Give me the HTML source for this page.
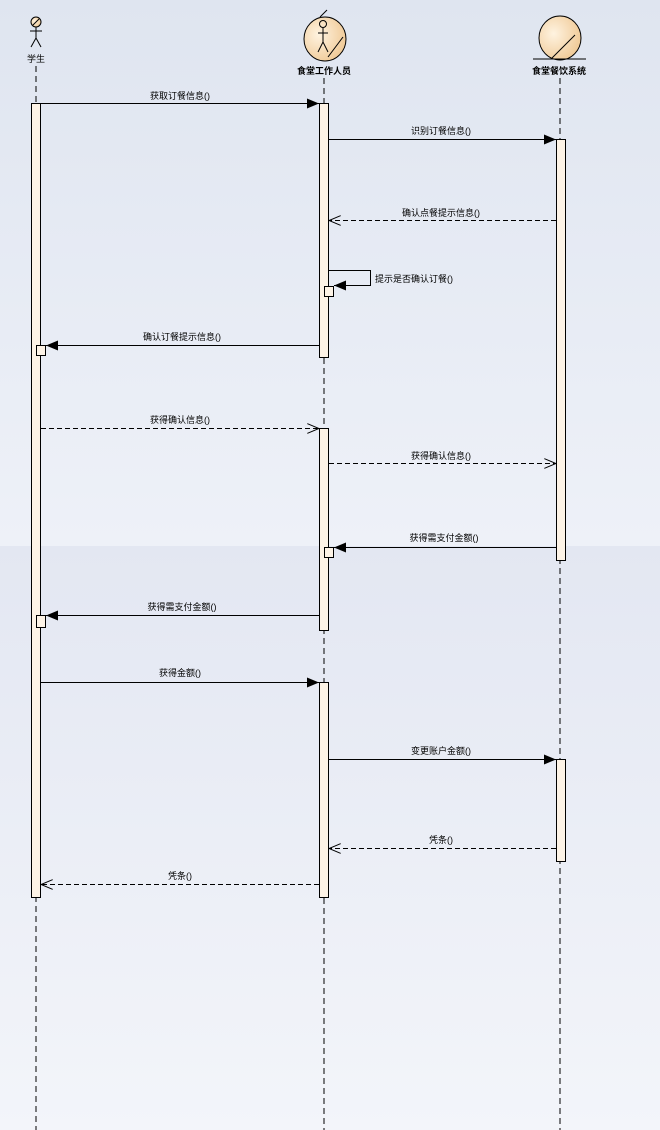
<!DOCTYPE html>
<html><head><meta charset="utf-8"><style>
html,body{margin:0;padding:0;width:660px;height:1130px;overflow:hidden}
svg text{font-family:"Liberation Sans","Noto Sans CJK SC",sans-serif;font-size:9px;fill:#000}
</style></head><body>
<svg width="660" height="1130" xmlns="http://www.w3.org/2000/svg">
<defs>
<linearGradient id="g1" x1="0" y1="0" x2="0" y2="1"><stop offset="0" stop-color="#dfe5f0"/><stop offset="1" stop-color="#eef1f8"/></linearGradient>
<linearGradient id="g2" x1="0" y1="0" x2="0" y2="1"><stop offset="0" stop-color="#e3e7f2"/><stop offset="1" stop-color="#f3f5fa"/></linearGradient>
<radialGradient id="rg" cx="0.35" cy="0.4" r="0.7"><stop offset="0" stop-color="#fff3e0"/><stop offset="1" stop-color="#efc894"/></radialGradient>
<marker id="fa" markerWidth="12" markerHeight="10" refX="12" refY="5" orient="auto" markerUnits="userSpaceOnUse"><path d="M0,0 L12,5 L0,10 Z" fill="#000"/></marker>
<marker id="oa" markerWidth="12" markerHeight="10" refX="12" refY="5" orient="auto" markerUnits="userSpaceOnUse"><path d="M0,0 L12,5 L0,10" fill="none" stroke="#000"/></marker>
</defs>
<rect x="0" y="0" width="660" height="546" fill="url(#g1)"/>
<rect x="0" y="546" width="660" height="584" fill="url(#g2)"/>
<!-- lifelines -->
<g stroke="#000" stroke-dasharray="6,4" stroke-width="1">
<line x1="36" y1="66" x2="36" y2="1130"/>
<line x1="324" y1="78" x2="324" y2="1130"/>
<line x1="560" y1="78" x2="560" y2="1130"/>
</g>
<!-- actor -->
<g stroke="#000" fill="none">
<circle cx="36" cy="22" r="5" fill="url(#rg)"/>
<line x1="33" y1="25" x2="39" y2="19"/>
<line x1="36" y1="27" x2="36" y2="38"/><line x1="30" y1="31" x2="42" y2="31"/>
<line x1="36" y1="38" x2="31" y2="47"/><line x1="36" y1="38" x2="41" y2="47"/>
</g>
<text x="36" y="62" text-anchor="middle">学生</text>
<!-- staff control -->
<ellipse cx="325" cy="39" rx="21" ry="22" fill="url(#rg)" stroke="#000"/>
<g stroke="#000" fill="none">
<line x1="320" y1="17" x2="327" y2="10"/>
<circle cx="323" cy="24" r="3.5"/>
<line x1="323" y1="28" x2="323" y2="42"/><line x1="318" y1="33" x2="328" y2="33"/>
<line x1="323" y1="42" x2="318" y2="52"/><line x1="323" y1="42" x2="328" y2="52"/>
<line x1="328" y1="57" x2="343" y2="37"/>
</g>
<text x="324" y="74" text-anchor="middle" font-weight="bold">食堂工作人员</text>
<!-- system entity -->
<ellipse cx="560" cy="38" rx="21" ry="22" fill="url(#rg)" stroke="#000"/>
<line x1="552" y1="58" x2="575" y2="35" stroke="#000"/>
<line x1="533" y1="59" x2="586" y2="59" stroke="#000"/>
<text x="559" y="74" text-anchor="middle" font-weight="bold">食堂餐饮系统</text>
<!-- activations -->
<g fill="#fdf3e6" stroke="#000">
<rect x="31.5" y="103.5" width="9" height="794"/>
<rect x="319.5" y="103.5" width="9" height="254"/>
<rect x="319.5" y="428.5" width="9" height="202"/>
<rect x="319.5" y="682.5" width="9" height="215"/>
<rect x="556.5" y="139.5" width="9" height="421"/>
<rect x="556.5" y="759.5" width="9" height="102"/>
<rect x="324.5" y="286.5" width="9" height="10"/>
<rect x="36.5" y="345.5" width="9" height="10"/>
<rect x="324.5" y="547.5" width="9" height="10"/>
<rect x="36.5" y="615.5" width="9" height="12"/>
</g>
<!-- messages -->
<g stroke="#000" stroke-width="1" fill="none">
<line x1="41" y1="103.5" x2="319" y2="103.5" marker-end="url(#fa)"/>
<line x1="329" y1="139.5" x2="556" y2="139.5" marker-end="url(#fa)"/>
<line x1="556" y1="220.5" x2="329" y2="220.5" stroke-dasharray="5,3" marker-end="url(#oa)"/>
<path d="M329,270.5 H370.5 V285.5 H334" marker-end="url(#fa)"/>
<line x1="319" y1="345.5" x2="46" y2="345.5" marker-end="url(#fa)"/>
<line x1="41" y1="428.5" x2="319" y2="428.5" stroke-dasharray="5,3" marker-end="url(#oa)"/>
<line x1="329" y1="463.5" x2="556" y2="463.5" stroke-dasharray="5,3" marker-end="url(#oa)"/>
<line x1="556" y1="547.5" x2="334" y2="547.5" marker-end="url(#fa)"/>
<line x1="319" y1="615.5" x2="46" y2="615.5" marker-end="url(#fa)"/>
<line x1="41" y1="682.5" x2="319" y2="682.5" marker-end="url(#fa)"/>
<line x1="329" y1="759.5" x2="556" y2="759.5" marker-end="url(#fa)"/>
<line x1="556" y1="848.5" x2="329" y2="848.5" stroke-dasharray="5,3" marker-end="url(#oa)"/>
<line x1="319" y1="884.5" x2="41" y2="884.5" stroke-dasharray="5,3" marker-end="url(#oa)"/>
</g>
<text x="180" y="99" text-anchor="middle">获取订餐信息()</text>
<text x="441" y="134" text-anchor="middle">识别订餐信息()</text>
<text x="441" y="216" text-anchor="middle">确认点餐提示信息()</text>
<text x="375" y="282">提示是否确认订餐()</text>
<text x="182" y="340" text-anchor="middle">确认订餐提示信息()</text>
<text x="180" y="423" text-anchor="middle">获得确认信息()</text>
<text x="441" y="459" text-anchor="middle">获得确认信息()</text>
<text x="444" y="541" text-anchor="middle">获得需支付金额()</text>
<text x="182" y="610" text-anchor="middle">获得需支付金额()</text>
<text x="180" y="676" text-anchor="middle">获得金额()</text>
<text x="441" y="754" text-anchor="middle">变更账户金额()</text>
<text x="441" y="843" text-anchor="middle">凭条()</text>
<text x="180" y="879" text-anchor="middle">凭条()</text>
</svg>
</body></html>
